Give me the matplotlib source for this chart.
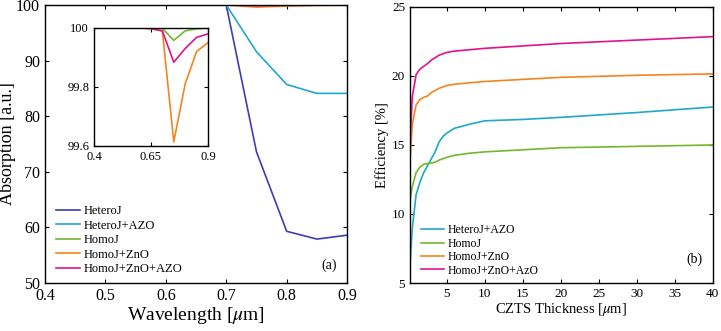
import matplotlib
matplotlib.use("Agg")
import matplotlib.pyplot as plt

plt.rcParams['font.family'] = ['Liberation Serif', 'DejaVu Serif']
plt.rcParams['mathtext.fontset'] = 'stix'

# ---- Panel (a) data ----
wl = [0.40, 0.45, 0.50, 0.55, 0.60, 0.65, 0.70, 0.75, 0.80, 0.85, 0.90]
heteroj = [100, 100, 100, 100, 100, 100, 100, 73.6, 59.3, 57.9, 58.6]
heteroj_azo = [100, 100, 100, 100, 100, 100, 100, 91.6, 85.7, 84.1, 84.1]
homoj = [100, 100, 100, 100, 100, 99.999, 99.999, 99.958, 99.99, 99.997, 100]
homoj_zno = [100, 100, 100, 100, 100, 99.998, 99.99, 99.614, 99.81, 99.92, 99.95]
homoj_zno_azo = [100, 100, 100, 100, 100, 99.998, 99.99, 99.884, 99.93, 99.968, 99.98]

# ---- Panel (b) data ----
thick_c = [0.2, 0.5, 1, 1.5, 2, 3, 3.5, 4, 4.5, 5, 6, 8, 10, 15, 20, 30, 40]
eff_c = [6.3, 9.0, 11.4, 12.3, 13.0, 14.0, 14.5, 15.2, 15.6, 15.85, 16.2, 16.5, 16.75, 16.85, 17.0, 17.35, 17.75]
thick_g = [0.2, 0.5, 1, 1.5, 2, 3, 3.5, 4, 5, 6, 8, 10, 15, 20, 30, 40]
eff_g = [11.0, 12.0, 13.0, 13.4, 13.6, 13.7, 13.75, 13.9, 14.1, 14.25, 14.4, 14.5, 14.65, 14.8, 14.9, 15.0]
thick_o = [0.2, 0.5, 1, 1.5, 2, 2.5, 3, 4, 5, 6, 10, 20, 30, 40]
eff_o = [13.9, 16.5, 17.9, 18.3, 18.45, 18.55, 18.8, 19.1, 19.3, 19.4, 19.6, 19.9, 20.05, 20.15]
thick_m = [0.2, 0.5, 1, 1.5, 2, 2.5, 3, 4, 5, 6, 10, 20, 30, 40]
eff_m = [15.2, 18.5, 20.1, 20.5, 20.7, 20.9, 21.15, 21.5, 21.7, 21.8, 22.0, 22.35, 22.6, 22.85]

c_blue = '#3d3db5'
c_cyan = '#1fa8cc'
c_green = '#72b82c'
c_orange = '#f5841f'
c_mag = '#e0138c'

fig = plt.figure(figsize=(7.21, 3.31), dpi=100)

def style(ax, fs):
    ax.tick_params(direction='in', top=True, right=True, labelsize=fs, length=3, width=0.8)
    for s in ax.spines.values():
        s.set_linewidth(1.0)

# Panel (a)
ax1 = fig.add_axes([0.0624, 0.145, 0.419, 0.840])
lw = 1.2
ax1.plot(wl, heteroj, color=c_blue, lw=lw, label='HeteroJ')
ax1.plot(wl, heteroj_azo, color=c_cyan, lw=lw, label='HeteroJ+AZO')
ax1.plot(wl, homoj, color=c_green, lw=lw, label='HomoJ')
ax1.plot(wl, homoj_zno, color=c_orange, lw=lw, label='HomoJ+ZnO')
ax1.plot(wl, homoj_zno_azo, color=c_mag, lw=lw, label='HomoJ+ZnO+AZO')
ax1.set_xlim(0.4, 0.9)
ax1.set_ylim(50, 100)
ax1.set_xticks([0.4, 0.5, 0.6, 0.7, 0.8, 0.9])
ax1.set_yticks([50, 60, 70, 80, 90, 100])
style(ax1, 11.5)
ax1.set_xlabel(r'Wavelength [$\mu$m]', fontsize=14, labelpad=1)
ax1.set_ylabel('Absorption [a.u.]', fontsize=13, labelpad=0)
ax1.legend(loc='lower left', bbox_to_anchor=(0.0, -0.012), frameon=False, fontsize=9,
           handlelength=1.9, labelspacing=0.2, handletextpad=0.3)
ax1.text(0.965, 0.04, '(a)', transform=ax1.transAxes, ha='right', va='bottom', fontsize=10)

# Inset
axi = fig.add_axes([0.1304, 0.559, 0.158, 0.3565])
axi.plot(wl, homoj, color=c_green, lw=lw)
axi.plot(wl, homoj_zno, color=c_orange, lw=lw)
axi.plot(wl, homoj_zno_azo, color=c_mag, lw=lw)
axi.set_xlim(0.4, 0.9)
axi.set_ylim(99.6, 100)
axi.set_xticks([0.4, 0.65, 0.9])
axi.set_xticklabels(['0.4', '0.65', '0.9'])
axi.set_yticks([99.6, 99.8, 100])
axi.set_yticklabels(['99.6', '99.8', '100'])
style(axi, 9)

# Panel (b)
ax2 = fig.add_axes([0.5687, 0.145, 0.420, 0.834])
ax2.plot(thick_c, eff_c, color=c_cyan, lw=lw, label='HeteroJ+AZO')
ax2.plot(thick_g, eff_g, color=c_green, lw=lw, label='HomoJ')
ax2.plot(thick_o, eff_o, color=c_orange, lw=lw, label='HomoJ+ZnO')
ax2.plot(thick_m, eff_m, color=c_mag, lw=lw, label='HomoJ+ZnO+AzO')
ax2.set_xlim(0.2, 40)
ax2.set_ylim(5, 25)
ax2.set_xticks([5, 10, 15, 20, 25, 30, 35, 40])
ax2.set_yticks([5, 10, 15, 20, 25])
style(ax2, 9.5)
ax2.set_xlabel(r'CZTS Thickness [$\mu$m]', fontsize=10.5, labelpad=1)
ax2.set_ylabel('Efficiency [%]', fontsize=10.5, labelpad=2)
ax2.legend(loc='lower left', bbox_to_anchor=(0.0, -0.015), frameon=False, fontsize=8.5,
           handlelength=2.0, labelspacing=0.12, handletextpad=0.3)
ax2.text(0.965, 0.06, '(b)', transform=ax2.transAxes, ha='right', va='bottom', fontsize=10)

fig.savefig('out.png', dpi=100)
